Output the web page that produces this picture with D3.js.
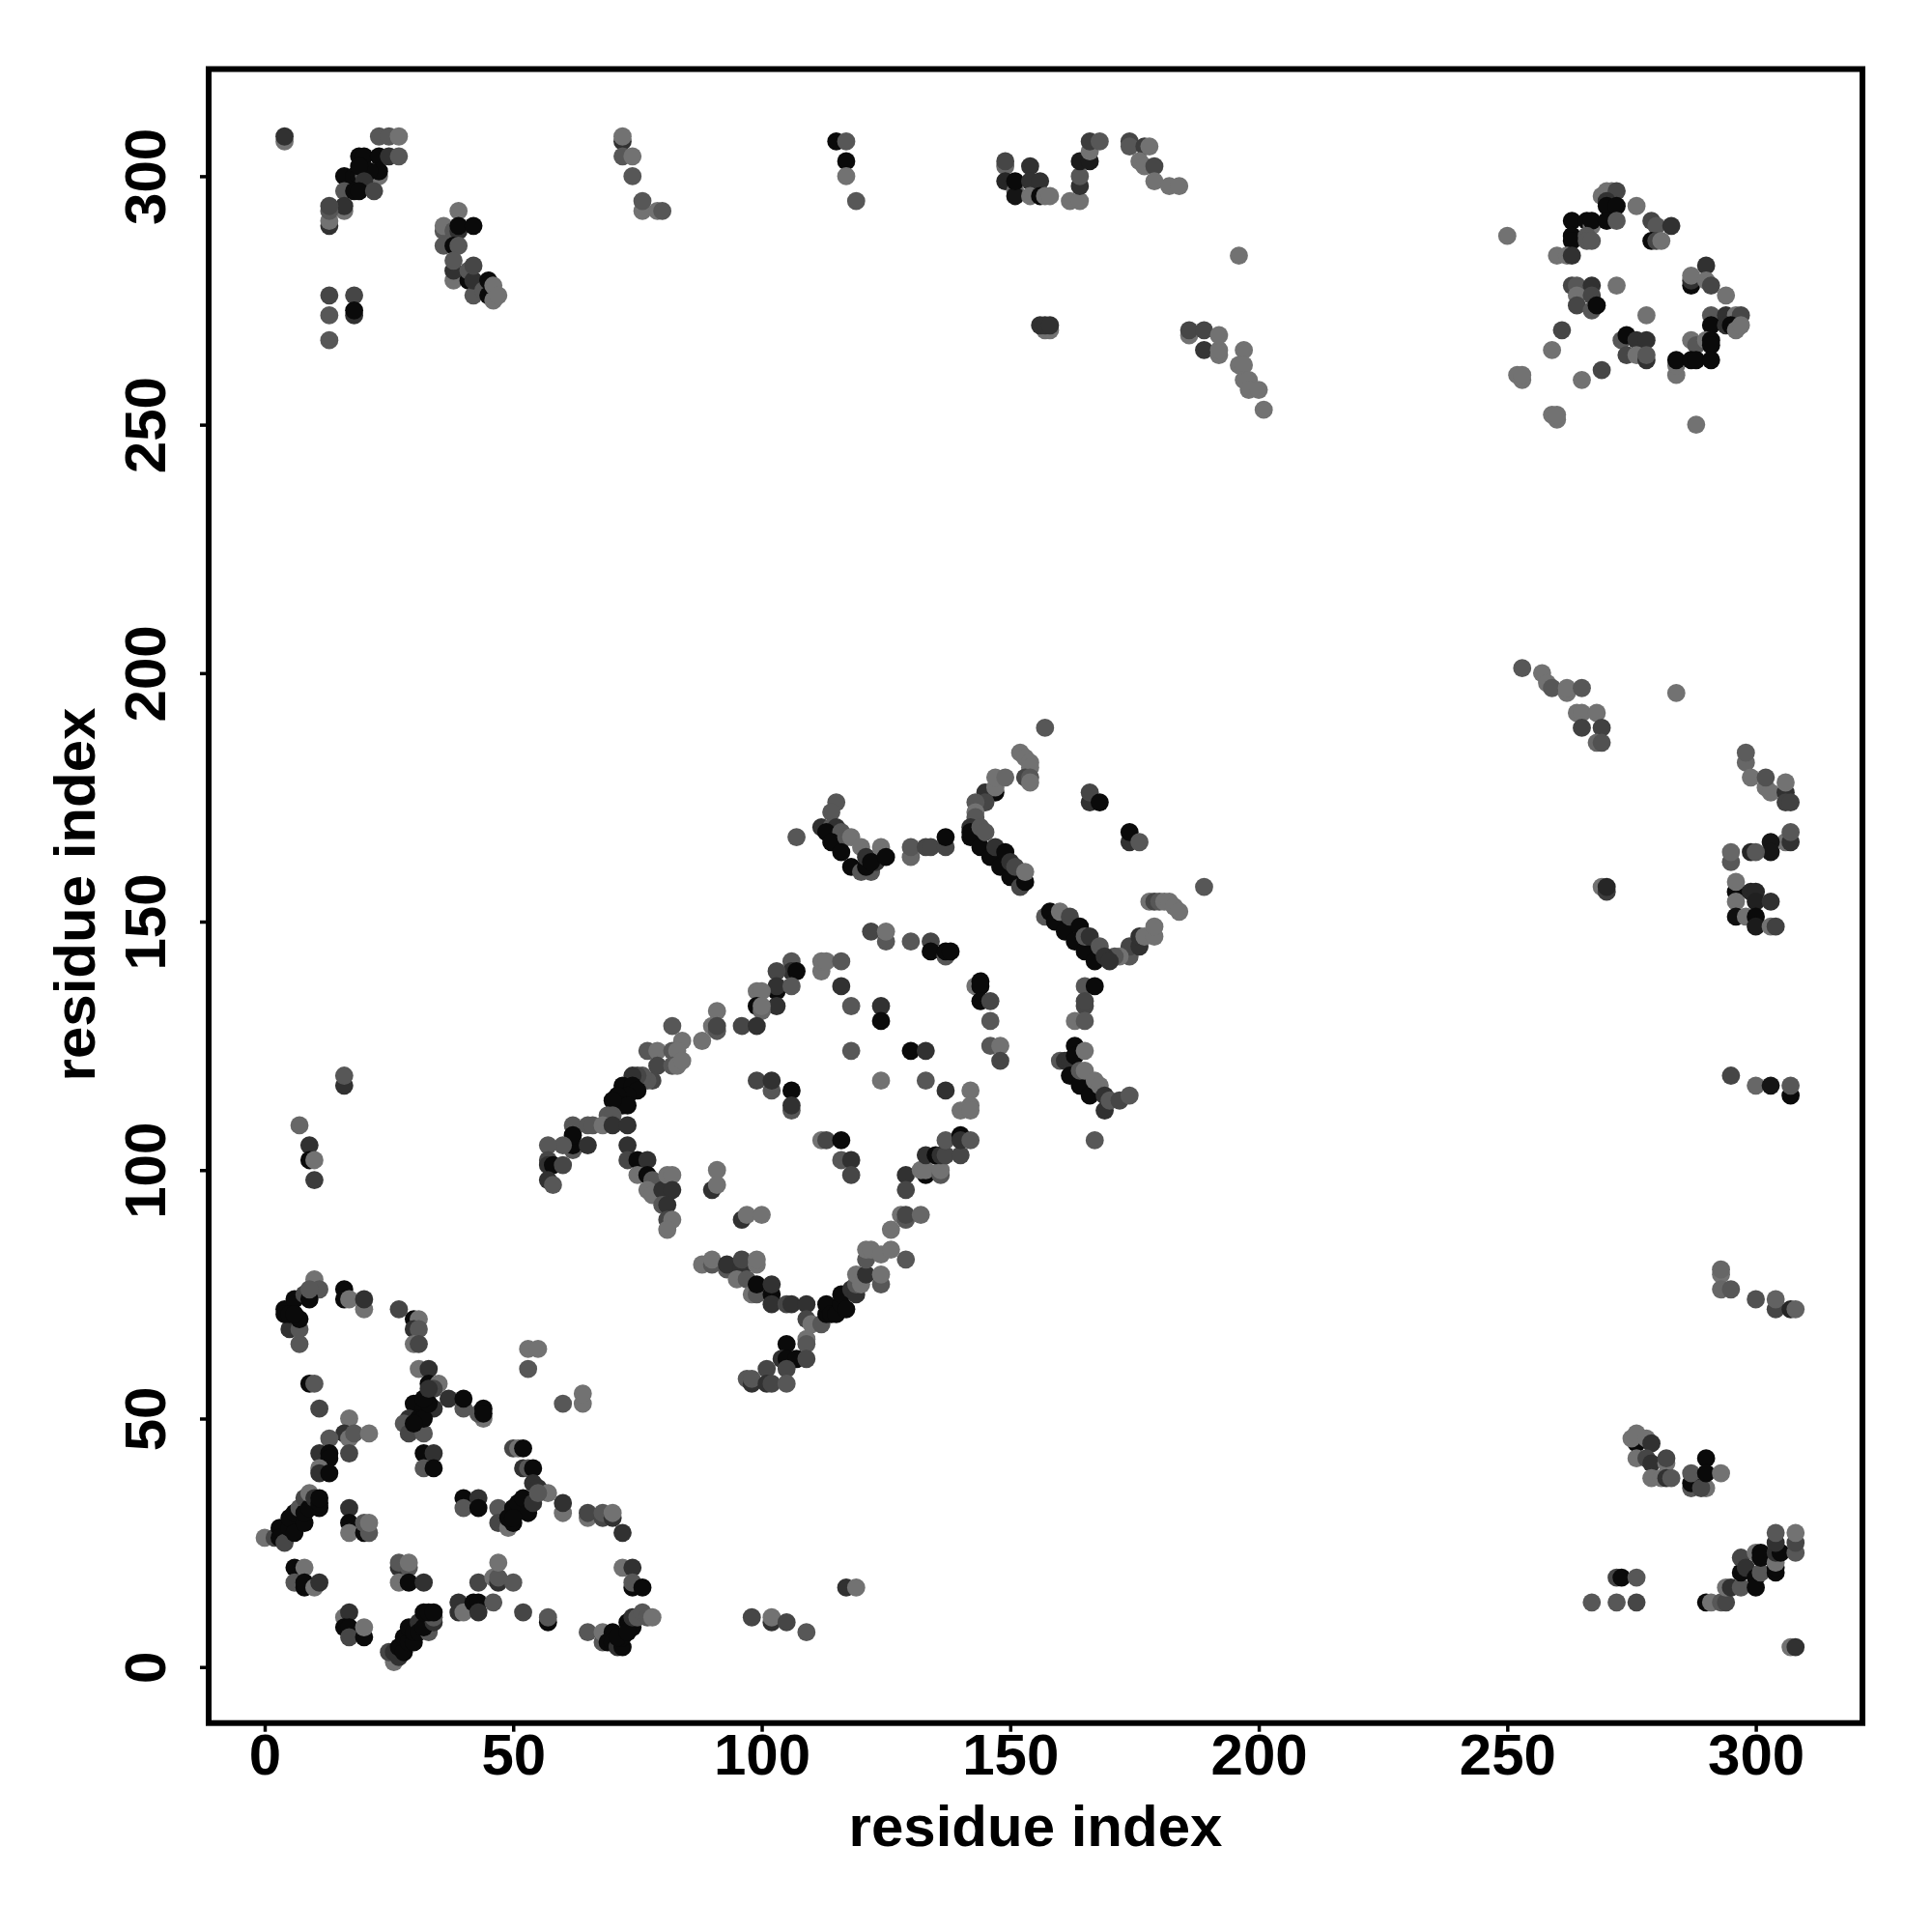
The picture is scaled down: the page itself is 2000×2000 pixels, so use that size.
<!DOCTYPE html>
<html><head><meta charset="utf-8"><script src="https://cdn.jsdelivr.net/npm/d3@7"></script>
<style>html,body{margin:0;background:#fff}</style></head><body><svg id="c" width="2000" height="2000"></svg>
<script>
// each contact: [residue i, residue j, score]
const xTicks=[0,50,100,150,200,250,300];
const yTicks=[0,50,100,150,200,250,300];
const axisTitle="residue index";
const lowerLeft=[[10,78,0],[11,76,.25],[4,72,.95],[6,74,.95],[5,68,.6],[7,68,.25],[7,70,.95],[7,65,.25],[8,75,.4],[9,74,.95],[9,76,.25],[4,71,.95],[5,71,.95],[6,71,.95],
[16,76,.95],[16,74,.95],[17,74,0],[20,72,0],[20,74,.6],[27,72,.4],[30,70,.95],[31,70,0],[30,68,.6],[31,68,.25],[30,65,0],[31,65,.4],
[31,60,0],[33,60,.6],[33,57,.95],[35,57,0],[34,56,.4],[37,54,.6],[40,52,.25],[40,54,.95],[44,50,0],[43,51,.25],[44,52,.95],[44,51,.95],
[30,53,.95],[32,52,.95],[34,52,.6],[29,50,.6],[28,49,.25],[29,47,.4],[32,47,.25],[31,50,.95],[32,50,.95],[30,49,.95],[33,53,.95],[32,54,.95],[33,56,.6],
[32,43,.95],[34,43,.6],[32,40,.25],[34,40,.95],[50,44,.4],[51,44,0],[52,44,.95],[52,40,.6],[53,40,.25],[54,40,.95],
[54,37,.6],[55,36,.6],[60,31,0],[60,33,.6],[57,35,0],[47,32,.25],[47,29,.4],[49,28,0],[50,32,.95],[50,31,.95],[50,29,.95],[51,33,.95],[52,34,.95],[53,31,.95],[54,33,.6],[55,35,.25],[49,30,.95],[50,30,.95],
[40,34,.95],[43,34,.6],[40,32,.25],[43,32,.95],[65,30,0],[65,31,.4],[68,30,.4],[68,31,.25],[70,30,.6],[70,31,0],[72,27,.6],
[72,20,0],[74,20,.6],[74,16,.95],[74,17,.25],[76,16,.95],
[65,7,.25],[68,5,.25],[68,7,0],[70,7,.95],[69,5,.95],[70,5,.95],[71,4,.6],[72,4,.95],[72,6,.95],[71,6,.95],[73,9,.95],[74,8,.95],[73,7,.95],[74,10,.6],[75,10,.25],[76,11,.25],[77,10,.25],[78,10,0],
[52,11,.4],[57,9,.95],[57,10,.25],[16,10,0],[17,11,.6],[16,8,.95],[17,8,.95],[17,6,.4],[20,6,.95],[20,8,0],
[26,1,0],[25,3,.4],[26,3,.6],[27,2,.6],[27,4,.95],[28,3,.95],[28,6,.95],[29,5,.95],[29,8,.95],[30,5,.95],[30,7,.95],[31,9,.6],[31,7,.95],[33,7,.25],[32,8,.95],[34,9,.6],[34,10,.25],[32,11,.95],[33,11,.95],[34,11,.95],
[39,13,.6],[39,11,.6],[40,11,0],[42,13,.95],[43,13,.95],[43,11,.6],[46,13,.25],
[43,17,.4],[46,18,0],[47,17,.6],[47,18,.25],[47,21,0],[50,17,.25],
[27,20,.6],[27,21,.25],[29,20,.25],[29,21,0],[27,17,0],[29,17,.95],[32,17,.6],
[6,20,.95],[8,20,0],[6,17,.25],[8,16,.95],[8,17,.95],[10,16,0],[11,17,.6],
[0,26,0],[2,26,.4],[3,28,.95],[3,26,.95],[4,25,.4],[5,28,.95],[5,30,.95],[6,27,.95],[6,31,.95],[7,32,.25],[8,29,.95],[8,31,.95],[8,34,.4],[9,32,.95],[9,35,0],[10,34,.6],[11,32,.95],[11,33,.95],[11,34,.95],
[17,32,.6],[17,29,.95],[17,27,0],[20,27,.95],[21,27,.25],[20,29,.25],[21,29,0],
[9,57,.95],[10,57,.25],[11,52,.4],[17,50,0],[16,47,.6],[17,46,0],[18,47,.25],[21,47,0],[17,43,.4],
[13,46,.25],[11,43,.6],[13,43,.95],[13,42,.95],[11,40,0],[11,39,.6],[13,39,.95],
[53,64,0],[55,64,0],[53,60,.25],[60,53,.25],[64,53,0],[64,55,0],
[98,10,.4],[102,9,.6],[102,10,0],[105,9,.4],[109,7,.25],[117,16,.6],[119,16,0],
[7,109,.1],[9,105,.6],[9,102,.95],[10,102,0],[10,98,.5],[16,117,.6],[16,119,.25]];
const centreRing=[[122,148,.4],[125,146,.25],[125,148,0],[130,146,.25],[134,146,.4],[134,144,.95],[137,143,.25],[137,144,.95],[138,144,.95],
[143,137,0],[144,138,.95],[144,137,.95],[144,134,.95],[146,134,.4],[146,130,.25],[146,125,.25],[148,125,0],[148,122,.4],
[106,142,.25],[106,140,.6],[107,140,.95],[103,140,.4],[103,136,.95],[103,137,.6],[106,137,.25],[103,133,.6],
[112,140,0],[112,142,0],[113,142,0],[116,142,.25],[116,137,.6],[118,133,.25],[124,133,.6],[124,130,.95],
[99,136,0],[100,136,0],[99,133,.95],[100,132,.1],[100,133,0],[96,129,.4],[99,129,.6],
[91,132,0],[90,129,0],[91,128,.25],[91,129,.4],[88,126,0],[84,126,0],[82,129,.25],[77,124,.25],[79,124,0],[79,121,.4],[82,124,.25],[83,124,0],[82,121,.25],[83,121,0],[84,122,0],
[78,118,.4],[77,118,.25],[76,119,.25],[75,119,.4],[74,119,.6],[72,117,.95],[74,117,.95],[75,116,.95],[73,115,.95],[71,115,.95],[71,113,.95],[72,113,.95],[73,113,.95],[70,114,.95],[69,111,.25],[70,111,.25],
[62,109,.25],[65,109,.25],[66,109,.25],[68,109,0],[70,109,.6],[73,109,.6],[62,104,.25],[62,105,.95],[62,107,.95],[65,105,.6],[60,105,.25],[57,105,.25],[57,102,.4],[57,101,.6],[58,101,.95],[60,101,.4],[57,98,.6],[58,97,.25],
[73,105,.6],[73,102,.4],[75,102,.95],[77,102,.6],[75,99,0],[77,99,.95],[78,98,.25],[77,96,0],[78,95,0],[80,96,.6],[81,99,0],[82,99,0],[82,96,.6],[80,93,.25],[81,93,.6],[81,90,.4],[82,90,0],[81,88,0],
[91,100,0],[90,96,.6],[91,97,0],[96,90,.6],[97,91,0],[100,91,0],
[88,81,0],[90,81,.25],[90,82,0],[93,80,.25],[93,81,.6],[96,80,.6],[96,82,.4],[99,81,0],[99,82,0],[95,78,0],[97,78,.25],[98,75,0],[99,75,.25],[99,77,.95],[102,75,.95],[102,77,.6],[102,73,.6],[105,73,.4],[106,73,.6],[109,73,.6],
[109,70,.4],[110,69,0],[112,69,.25],[113,71,.95],[113,73,.95],[114,71,.95],[115,71,.95],[116,73,.95],[116,75,.95],[117,72,.95],[118,76,.6],[119,75,.6],[119,77,.25],[119,79,0],[120,77,0],[121,79,.6],[124,77,.25],[124,79,0],[121,82,.25],[121,84,0],[122,84,0],[124,83,0],[126,84,0],[129,82,.25],[126,88,0],[128,91,0],[129,90,.25],[129,91,.4],[132,91,.1],
[129,99,.6],[129,96,.4],[133,99,.95],[132,100,0],[133,100,0],[136,99,.25],[136,100,0],[133,103,.6],[135,103,.95],[136,103,.6],[137,103,.4],[140,103,.4],[137,106,.25],[140,107,.95],[140,106,.6],[142,106,.25],
[142,116,0],[142,113,0],[140,112,0],[142,112,0],[137,116,.6],[133,118,.25],[124,118,0],[118,124,.25],[130,124,.95],[133,124,.6],
[99,118,.4],[102,116,.25],[102,118,.6],[106,116,.95],[106,112,.25],[106,113,.6],[112,106,0],[113,106,.4],[116,106,.95],[116,102,.25],[118,102,.6],[118,99,.4],
[105,65,.95],[109,66,0],[109,65,.25],[104,62,.6],[105,62,.95],[107,62,.95],[109,62,.4],[101,60,.4],[105,60,.4],[97,58,.25],[98,57,.6],[98,58,.25],[101,57,.6],[102,57,.4],[105,57,.25]];
const upperCentre=[[157,189,.25],[152,184,0],[153,183,0],[154,182,0],[154,181,0],[153,179,.4],[154,179,.25],[154,178,0],
[147,176,.95],[145,176,.6],[147,177,0],[147,179,0],[149,179,.1],[145,174,.4],[143,174,.25],[143,172,0],[143,171,.25],
[142,169,.6],[142,167,.95],[143,167,.95],[142,168,.95],[144,169,.25],[144,165,.95],[146,163,.95],[148,161,.95],[150,159,.95],[152,157,.4],[153,158,.95],[145,168,.25],[147,165,.6],[149,164,.95],[150,162,.6],[151,161,.4],[153,160,0],
[115,174,.25],[114,172,.25],[112,169,.6],[114,169,.25],[115,169,.6],[113,168,.95],[116,168,.25],[114,166,.95],[117,167,.25],[118,167,0],[116,164,.95],[118,161,.95],[120,160,.25],[122,160,.25],[120,165,0],[121,161,.95],[121,163,.6],[123,162,.6],[122,162,.95],[124,165,0],[125,163,.95],
[107,167,.25],[130,163,.1],[130,165,.25],[133,165,.4],[134,165,.4],[137,165,.4],[137,167,.95],
[166,174,.6],[166,176,.4],[168,174,.95],[174,166,.6],[174,168,.95],[176,166,.25],[189,157,.25],
[178,154,0],[179,154,.4],[180,154,.25],[181,154,0],[182,154,0],[183,153,0],[184,152,0],
[174,143,.25],[174,145,.4],[172,143,0],[171,143,.25],[176,145,.6],[176,147,.6],[177,147,0],[179,147,0],[179,149,0],
[157,151,.25],[158,152,.95],[159,150,.95],[161,148,.95],[160,152,0],[162,151,.4],[163,146,.95],[164,149,.95],[165,144,.95],[165,147,.25],[166,147,.6],[167,142,.95],[168,145,.25],[169,143,.6],[170,142,.6],
[165,137,.25],[167,137,.95],[165,133,.4],[165,134,.4],[163,130,0],[165,130,.25],
[160,122,.25],[161,122,.6],[162,122,.6],[163,125,.95],[163,123,.95],[165,124,0],[162,119,.95],[164,117,.95],[164,120,.25],[165,120,0],[166,115,.95],[167,118,0],[168,117,0],[169,112,.6],[169,115,.6],[170,114,.25],[172,114,.4],[174,115,.25],[167,106,.25]];
const topLeft=[[4,307,0],[4,308,.6],[23,308,.25],[25,308,.25],[27,308,0],[19,304,.95],[20,304,.95],[23,304,.95],[25,304,.6],[27,304,.25],
[16,300,.95],[18,300,.95],[19,300,.95],[20,300,.25],[23,300,0],[23,301,.95],[21,301,.95],[19,302,.95],[20,299,.6],[16,297,.25],[18,297,.95],[19,297,.95],[22,297,.4],
[16,293,0],[16,294,.6],[13,290,.6],[13,291,0],[13,293,.25],[13,294,.4],[13,276,.4],[18,276,.4],[13,272,.25],[18,272,.6],[18,273,.95],[13,267,.25],
[39,293,0],[36,289,.25],[36,290,0],[38,289,.25],[39,289,.6],[39,290,.95],[42,290,.95],[36,286,.25],[38,286,.95],[39,286,.25],[38,279,0],[38,281,.6],[38,283,.25],
[41,279,.95],[42,276,.25],[41,281,.25],[42,279,.6],[42,282,.4],[44,277,.25],[45,276,.95],[45,279,.95],[46,275,0],[46,278,0],[47,276,0],
[72,307,.6],[72,308,0],[72,304,.25],[74,304,0],[74,300,.25],[76,293,0],[76,295,.25],[79,293,0],[80,293,.25]];
const topMiddle=[[115,307,.95],[117,307,.25],[117,303,.95],[117,300,0],[119,295,.25],
[149,302,.1],[149,303,.4],[149,299,.7],[151,297,.1],[151,296,.85],[151,299,.95],[154,302,.6],[154,299,.6],[154,296,0],[156,299,.6],[156,296,.95],[157,296,0],[158,296,0],[162,295,0],[164,295,0],[164,298,.6],[164,300,.25],[164,303,.8],[166,303,.8],[166,305,0],[166,307,.5],[168,307,.25],
[174,307,.4],[174,306,.25],[177,306,.5],[178,306,0],[176,303,0],[177,302,0],[179,302,.4],[179,299,0],[182,298,0],[184,298,0],
[157,269,0],[158,269,0],[156,270,.6],[157,270,.6],[158,270,.6],[196,284,0],
[186,268,0],[186,269,.4],[189,265,.55],[189,269,.4],[192,264,0],[192,265,0],[192,268,0],[197,265,0],[196,262,0],[197,262,0],[197,259,0],[198,259,0],[198,257,0],[200,257,0],[201,253,0]];
const topRight=[[250,288,0],[269,296,0],[270,297,0],[271,297,0],[272,297,.4],[270,295,.6],[270,294,.95],[272,294,.95],[276,294,0],
[263,291,.95],[266,291,.95],[267,290,0],[267,291,.95],[270,291,.95],[272,291,.25],[279,291,.4],[280,290,.25],[283,290,.6],[279,287,.95],[280,287,.4],[281,287,0],
[263,288,.95],[263,287,.95],[266,288,.25],[266,287,.25],[267,287,.25],[260,284,0],[262,284,0],[263,284,.6],
[290,282,.6],[287,278,.95],[287,279,.6],[287,280,0],[290,279,0],[291,278,.4],[294,276,0],
[263,278,.4],[264,278,.25],[267,278,.6],[272,278,0],[264,276,0],[267,276,.4],[264,274,.4],[267,273,.25],[268,274,.95],
[261,269,.4],[259,265,0],[278,272,0],[273,267,.25],[274,268,.95],[276,267,.6],[278,267,.6],[274,264,.4],[276,264,0],[278,263,.6],[278,264,.25],
[291,272,.25],[294,272,.6],[296,272,0],[297,272,.4],[291,270,.95],[294,270,.6],[295,270,.95],[296,269,0],[297,270,0],
[287,267,0],[288,266,.25],[290,267,0],[291,267,.95],[291,266,.95],[284,260,0],[284,262,0],[284,263,.95],[287,263,.95],[288,263,.95],[291,263,.95],
[269,261,.4],[265,259,0],[252,260,0],[253,259,0],[253,260,0],[259,252,0],[260,251,0],[260,252,0],[288,250,0]];
const rightSide=[[253,201,.25],[257,200,0],[258,198,0],[259,197,.25],[262,196,0],[262,197,0],[265,197,.25],[264,192,0],[265,192,0],[268,192,0],[265,189,.45],[269,189,.45],[268,186,.1],[269,186,.3],[284,196,0],
[298,182,.1],[298,184,.2],[299,179,0],[302,177,0],[303,176,0],[302,179,.3],[306,176,.6],[306,174,.45],[307,174,.45],[306,178,0],
[306,166,0],[307,166,.6],[307,168,.25],[303,166,.85],[303,164,.85],[299,164,.7],[300,164,.25],[295,162,.25],[295,164,.1],
[296,156,.95],[296,158,0],[296,154,0],[299,156,.7],[300,156,.7],[300,154,.75],[303,154,.6],[296,151,.9],[298,151,0],[300,151,.95],[300,149,.8],[303,149,0],[304,149,.45],
[269,157,0],[270,156,.5],[270,157,.7],[295,119,.4],[300,117,.1],[303,117,.85],[307,115,.95],[307,117,.25],
[293,79,0],[293,80,.1],[293,76,.1],[295,76,.25],[300,74,.3],[304,72,.4],[304,74,.15],[307,72,.7],[308,72,.15]];
const lowerRight=[[267,13,.25],[272,13,.25],[276,13,.4],[272,18,.4],[273,18,.95],[276,18,.25],
[276,45,.95],[275,46,0],[276,47,0],[278,46,0],[279,45,.6],[276,42,0],[278,42,.4],[279,41,.6],[282,41,0],[282,42,.4],[279,38,0],[281,38,0],[282,38,.6],[283,38,.25],
[287,36,.25],[287,37,.95],[287,39,.25],[290,36,0],[289,36,.4],[290,42,.95],[290,39,.95],[293,39,0],
[290,13,.95],[291,13,0],[293,13,.25],[294,13,.4],[294,16,0],[295,16,.6],[297,16,.25],[297,19,.95],[297,22,.4],[298,20,.6],[300,18,.95],[300,16,.95],[300,23,0],[301,19,.25],[301,23,.95],[301,22,.95],
[304,19,.95],[304,20,.95],[304,21,0],[304,23,.6],[305,23,.95],[304,25,.6],[304,27,.25],[308,23,.25],[308,25,.4],[308,27,0],[307,4,0],[308,4,.6]];
const contacts=[...lowerLeft,...centreRing,...upperCentre,...topLeft,...topMiddle,...topRight,...rightSide,...lowerRight];

const svg=d3.select("#c");
const box={l:216,r:1928,t:71.5,b:1783.7};
const x=d3.scaleLinear().domain([0,300]).range([274,1817.6]);
const y=d3.scaleLinear().domain([0,300]).range([1725.7,182.4]);
const grey=d3.scaleLinear().domain([0,1]).range([0x72,0x05]);
svg.append("g").selectAll("circle").data(contacts).join("circle")
 .attr("cx",d=>x(d[0])).attr("cy",d=>y(d[1])).attr("r",9.4)
 .attr("fill",d=>{const g=Math.round(grey(d[2]));return `rgb(${g},${g},${g})`;});
const font="'Liberation Sans',Arial,sans-serif";
const ax=svg.append("g").attr("transform",`translate(0,${box.b})`).call(d3.axisBottom(x).tickValues(xTicks).tickSize(9));
const ay=svg.append("g").attr("transform",`translate(${box.l},0)`).call(d3.axisLeft(y).tickValues(yTicks).tickSize(9));
[ax,ay].forEach(a=>{a.select(".domain").remove();a.selectAll("line").attr("stroke","#000").attr("stroke-width",3.5);
 a.selectAll("text").attr("fill","#000").attr("font-family",font).attr("font-weight","bold").attr("font-size",60).attr("dy",0);});
ax.selectAll("text").attr("text-anchor","middle").attr("y",53);
ay.selectAll("text").attr("text-anchor","middle").attr("x",0).attr("y",-45).attr("transform","rotate(-90)");
svg.append("rect").attr("x",box.l).attr("y",box.t).attr("width",box.r-box.l).attr("height",box.b-box.t).attr("fill","none").attr("stroke","#000").attr("stroke-width",6);
svg.append("text").attr("x",1072).attr("y",1911).attr("text-anchor","middle").attr("font-family",font).attr("font-weight","bold").attr("font-size",60).text(axisTitle);
svg.append("text").attr("transform","translate(98,926) rotate(-90)").attr("text-anchor","middle").attr("font-family",font).attr("font-weight","bold").attr("font-size",60).text(axisTitle);
</script></body></html>
